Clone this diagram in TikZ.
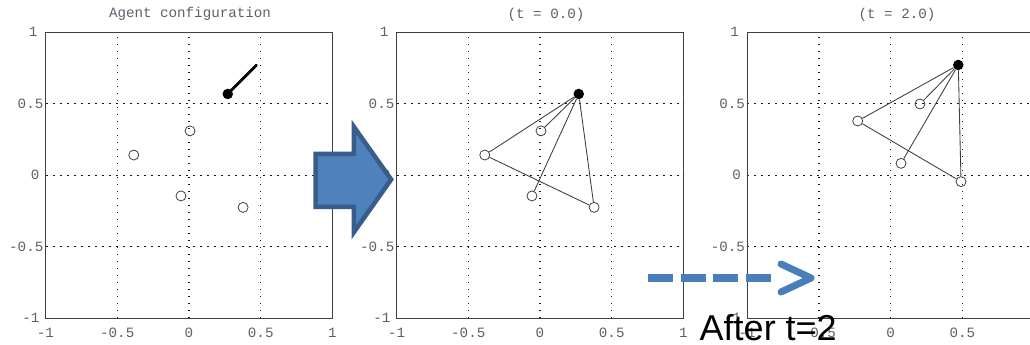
\documentclass[tikz,border=0pt]{standalone}
\usepackage{fontspec}
\setmainfont{Liberation Sans}
\newfontfamily\plotfont{Liberation Mono}
\definecolor{tickgray}{RGB}{95,95,108}
\definecolor{officeblue}{RGB}{79,129,189}
\definecolor{officeedge}{RGB}{56,93,138}
\definecolor{dashblue}{RGB}{74,126,187}
\definecolor{edgegray}{RGB}{60,60,60}
\tikzset{
  gridv/.style={line width=1.1pt, black!90, dash pattern=on 1.4pt off 5.6pt},
  gridh/.style={line width=1.1pt, black!90, dash pattern=on 2pt off 5pt},
  frame/.style={line width=1pt, black!75},
  ticklab/.style={font=\plotfont\fontsize{14.2pt}{15pt}\selectfont, text=tickgray, inner sep=0pt},
  plottitle/.style={font=\plotfont\fontsize{14.2pt}{15pt}\selectfont, text=tickgray, inner sep=0pt},
  opendot/.style={circle, draw=black!75, line width=0.8pt, minimum size=10pt, inner sep=0pt},
  fulldot/.style={circle, fill=black, minimum size=10.5pt, inner sep=0pt},
  link/.style={line width=0.85pt, edgegray},
  heading/.style={line width=2.8pt, black, line cap=round},
}
\newcommand{\plotaxes}[1]{%
  \foreach \v in {-0.5,0,0.5} {
    \draw[gridv] (\v,-1) -- (\v,1);
    \draw[gridh] (-1,\v) -- (1,\v);
  }
  \draw[frame] (-1,-1) rectangle (1,1);
  \foreach \v/\t in {-1/-1,-0.5/-0.5,0/0,0.5/0.5#1} {
    \node[ticklab] at ([yshift=-15pt]\v,-1) {\t};
  }
  \foreach \v/\t/\s in {-1/-1/6,-0.5/-0.5/2,0/0/6,0.5/0.5/2,1/1/8} {
    \node[ticklab, anchor=east] at ([xshift=-\s pt]-1,\v) {\t};
  }
}
\begin{document}
\begin{tikzpicture}[x=1pt,y=-1pt]
\useasboundingbox (0,0) rectangle (1030,345);
\fill[white] (0,0) rectangle (1030,345);

% ---------- panel 1 ----------
\node[plottitle] (title1) at (190,14) {Agent configuration};
\begin{scope}[shift={(189pt,-175.2pt)}, x=143.5pt, y=143pt]
  \plotaxes{,1/1}
  \node[opendot] (a1) at (0.007,0.31) {};
  \node[opendot] (a2) at (-0.385,0.141) {};
  \node[opendot] (a3) at (-0.056,-0.145) {};
  \node[opendot] (a4) at (0.377,-0.225) {};
  \coordinate (h1) at (0.47,0.77);
  \node[fulldot] (l1) at (0.27,0.568) {};
  \draw[heading] (l1.center) -- (h1);
\end{scope}

% ---------- panel 2 ----------
\node[plottitle] (title2) at (546,15) {(t = 0.0)};
\begin{scope}[shift={(540pt,-175.2pt)}, x=143.5pt, y=143pt]
  \plotaxes{,1/1}
  \node[opendot] (b1) at (0.007,0.31) {};
  \node[opendot] (b2) at (-0.385,0.141) {};
  \node[opendot] (b3) at (-0.056,-0.145) {};
  \node[opendot] (b4) at (0.377,-0.225) {};
  \node[fulldot] (l2) at (0.27,0.568) {};
  \draw[link] (l2) -- (b1);
  \draw[link] (l2) -- (b2);
  \draw[link] (l2) -- (b3);
  \draw[link] (l2) -- (b4);
  \draw[link] (b2) -- (b4);
\end{scope}

% ---------- panel 3 ----------
\node[plottitle] (title3) at (897,15) {(t = 2.0)};
\begin{scope}
\clip (0,0) rectangle (1030,345);
\begin{scope}[shift={(890.7pt,-175.2pt)}, x=143.5pt, y=143pt]
  \plotaxes{}
  \node[opendot] (c1) at (0.204,0.498) {};
  \node[opendot] (c2) at (-0.23,0.379) {};
  \node[opendot] (c3) at (0.072,0.083) {};
  \node[opendot] (c4) at (0.49,-0.045) {};
  \node[fulldot] (l3) at (0.471,0.771) {};
  \draw[link] (l3) -- (c1);
  \draw[link] (l3) -- (c2);
  \draw[link] (l3) -- (c3);
  \draw[link] (l3) -- (c4);
  \draw[link] (c2) -- (c4);
\end{scope}
\end{scope}

% ---------- block arrow ----------
\draw[fill=officeblue, draw=officeedge, line width=4.5pt, line join=miter]
  (315.55,153.95) -- (353.95,153.95) -- (353.95,126.9) -- (391.15,179.5)
  -- (353.95,232.1) -- (353.95,206.75) -- (315.55,206.75) -- cycle;

% ---------- dashed arrow ----------
\coordinate (dstart) at (648,278);
\coordinate (dend) at (771,278);
\coordinate (dtip) at (811,278);
\draw[dashblue, line width=7.5pt, dash pattern=on 25pt off 7.5pt] (dstart) -- (dend);
\draw[dashblue, line width=7pt, line cap=round, line join=round]
  ([shift={(-30pt,14pt)}]dtip) -- (dtip) -- ([shift={(-30pt,-14pt)}]dtip);

% ---------- caption ----------
\node[anchor=base west, inner sep=0pt, font=\fontsize{36pt}{40pt}\selectfont] (after) at (699.5,340) {After t=2};
\end{tikzpicture}
\end{document}
